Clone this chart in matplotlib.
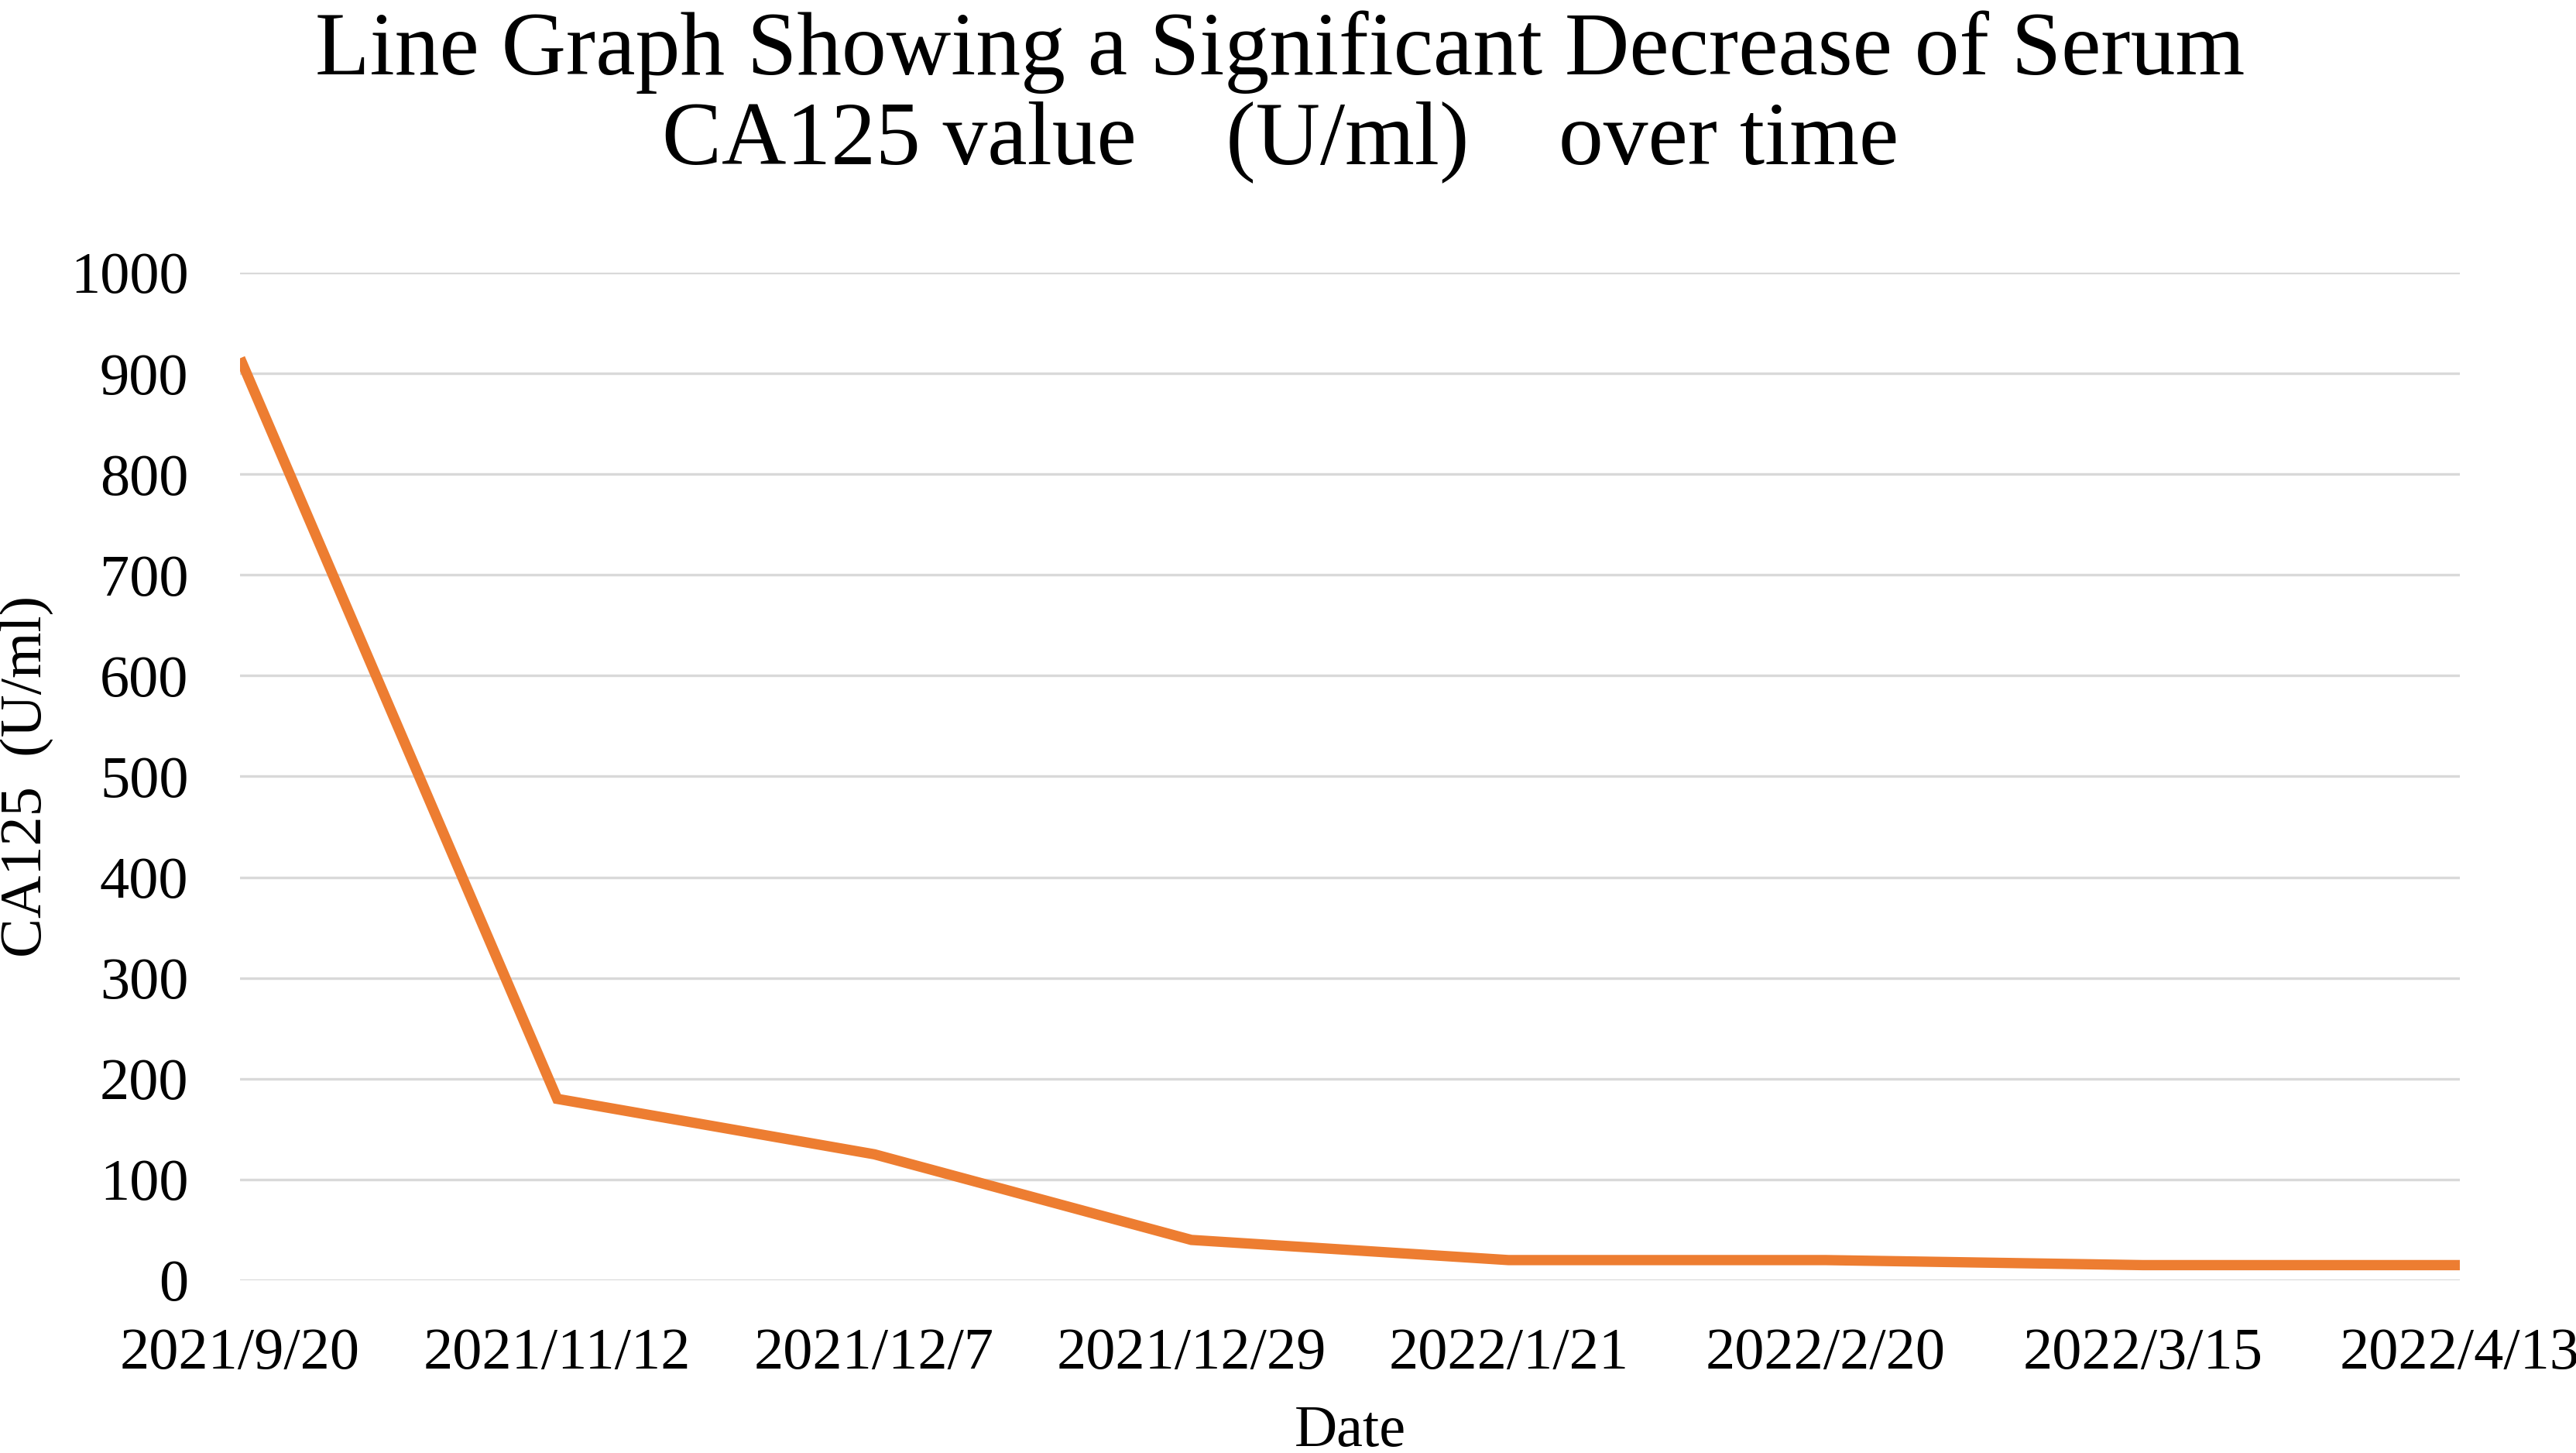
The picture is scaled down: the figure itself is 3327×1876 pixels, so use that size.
#!/usr/bin/env python3
# -*- coding: utf-8 -*-

import matplotlib
matplotlib.use('Agg')
import matplotlib.pyplot as plt

#------------------------------------------------------------------------------
# Data
#------------------------------------------------------------------------------
date_label = ['2021/9/20', '2021/11/12', '2021/12/7', '2021/12/29', \
              '2022/1/21', '2022/2/20', '2022/3/15', '2022/4/13']
ca125_value = [915, 180, 125, 40, 20, 20, 15, 15]
y_tick = [0, 100, 200, 300, 400, 500, 600, 700, 800, 900, 1000]

title_text = 'Line Graph Showing a Significant Decrease of Serum\n' \
             'CA125 value    (U/ml)    over time'
x_label_text = 'Date'
y_label_text = 'CA125  (U/ml)'

#------------------------------------------------------------------------------
# Main
#------------------------------------------------------------------------------
def main():

  # Plot
  plot_ca125(date_label, ca125_value)
#------------------------------------------------------------------------------

#------------------------------------------------------------------------------
# Plot CA125
#------------------------------------------------------------------------------
def plot_ca125(label, value):

  # Font
  plt.rcParams['font.family'] = ['Liberation Serif', 'DejaVu Serif']

  # Make new window
  fig = plt.figure(figsize = (16.635, 9.38), dpi = 200)
  ax = fig.add_axes([0.0932, 0.1189, 0.8617, 0.6935])

  # Positions of categories
  position = list(range(len(label)))

  # Grid
  for tick in y_tick:
    ax.axhline(tick, color = '#d9d9d9', linewidth = 1.2, zorder = 1)

  # Plot
  ax.plot(position, value, color = '#ed7d31', linewidth = 4.8, \
          solid_joinstyle = 'miter', solid_capstyle = 'butt', zorder = 3)

  # Axes limits
  ax.set_xlim(0, len(label) - 1)
  ax.set_ylim(0, 1000)

  # Ticks
  ax.set_xticks(position)
  ax.set_xticklabels(label, fontsize = 27.5)
  ax.set_yticks(y_tick)
  ax.set_yticklabels([str(tick) for tick in y_tick], fontsize = 27.5)
  ax.tick_params(axis = 'x', length = 0, pad = 22)
  ax.tick_params(axis = 'y', length = 0, pad = 24)

  # Spines
  for spine in ax.spines.values():
    spine.set_visible(False)

  # Set axes label
  ax.set_xlabel(x_label_text, fontsize = 27.5, labelpad = 11)
  ax.set_ylabel(y_label_text, fontsize = 27.5, labelpad = 8)

  # Title
  fig.text(0.497, 0.993, title_text, fontsize = 41.6, ha = 'center', \
           va = 'top', linespacing = 1.12)

  # Save figure
  fig.savefig('out.png', dpi = 200)

  # Close figure
  plt.close(fig)
#------------------------------------------------------------------------------

#------------------------------------------------------------------------------
# Call main
#------------------------------------------------------------------------------
if __name__ == '__main__':
  main()
#------------------------------------------------------------------------------
